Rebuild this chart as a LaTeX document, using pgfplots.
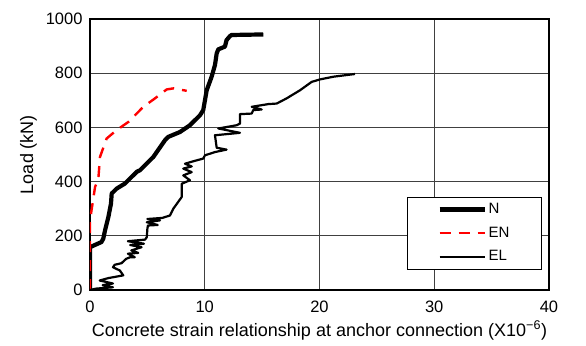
\documentclass[border=0pt]{standalone}
\usepackage{fontspec}
\setmainfont{Liberation Sans}
\usepackage{pgfplots}
\pgfplotsset{compat=1.18}
\begin{document}
\fontsize{16pt}{19pt}\selectfont
\begin{tikzpicture}
\path (-90pt,-51pt) rectangle (496pt,290pt);
\begin{axis}[
  at={(0pt,0pt)}, anchor=south west, scale only axis,
  width=459pt, height=271pt,
  xmin=0, xmax=40, ymin=0, ymax=1000,
  xtick={0,10,20,30,40}, ytick={0,200,400,600,800,1000},
  grid=major, major grid style={black!75, line width=1pt},
  axis line style={black, line width=1.2pt},
  tick style={draw=none},
  /pgf/number format/assume math mode=true,
  /pgf/number format/1000 sep={},
  ticklabel style={font=\fontsize{16.5pt}{19pt}\selectfont},
  xticklabel style={yshift=-5pt},
  yticklabel style={xshift=-2pt},
  label style={font=\fontsize{18pt}{21pt}\selectfont},
  xlabel style={yshift=2pt},
  ylabel style={yshift=-2pt},
  xlabel={Concrete strain relationship at anchor connection (X10\textsuperscript{−6})},
  ylabel={Load (kN)},
  legend style={at={(0.985,0.074)}, anchor=south east, draw=black, line width=1.2pt,
    inner xsep=30pt, inner ysep=4pt, row sep=7pt,
    font=\fontsize{15pt}{18pt}\selectfont},
  legend cell align=left,
  legend image code/.code={\draw[#1] (0pt,0pt) -- (45pt,0pt);},
]
\addplot[black, line width=4.2pt, line join=round] coordinates {
(0,0) (0,158) (1.0,177) (1.16,190) (1.31,220) (1.6,269) (1.83,319) (1.89,356)
(2.32,374) (3.05,393) (4.07,436) (4.36,442) (5.52,491) (6.54,553) (6.82,565)
(7.84,583) (8.71,608) (9.59,645) (9.87,664) (10.17,737) (10.6,787) (10.89,830)
(11.04,873) (11.18,888) (11.76,898) (11.9,922) (12.2,937) (12.34,941) (15.1,943)
};
\addlegendentry{N}
\addplot[red, line width=2.4pt, dash pattern=on 11pt off 8pt] coordinates {
(0,0) (0,257) (0.44,380) (0.73,411) (0.87,491) (1.45,559) (2.32,590) (3.34,620)
(4.65,676) (5.66,707) (6.68,740) (7.26,744) (8.43,735)
};
\addlegendentry{EN}
\addplot[black, line width=2.2pt, line join=round] coordinates {
(0,0) (0.5,5) (2.0,10) (1.1,18) (2.0,24) (0.85,35) (1.6,44) (2.9,54) (2.6,72)
(2.0,84) (2.15,93) (2.75,99) (3.15,115) (3.5,121) (3.9,121) (3.3,134) (4.2,137)
(3.6,146) (4.5,158) (3.5,166) (4.7,171) (3.3,180) (4.8,186) (4.95,195) (5.0,226)
(5.05,238) (5.9,240) (4.95,250) (6.1,257) (5.0,262) (6.3,266) (6.97,275)
(7.26,300) (7.99,343) (7.99,392) (8.71,405) (8.13,423) (8.86,435) (8.13,448)
(8.86,456) (8.28,466) (9.0,475) (9.87,485) (10.02,497) (10.89,509) (11.9,518)
(11.04,525) (10.89,571) (13.07,580) (11.18,596) (12.78,608) (13.07,614)
(13.07,649) (14.09,651) (14.23,664) (14.96,666) (14.09,676) (15.54,686)
(16.27,688) (17.13,707) (18.3,737) (19.32,768) (20.04,777) (21.2,787) (23.09,797)
};
\addlegendentry{EL}
\end{axis}
\end{tikzpicture}
\end{document}
